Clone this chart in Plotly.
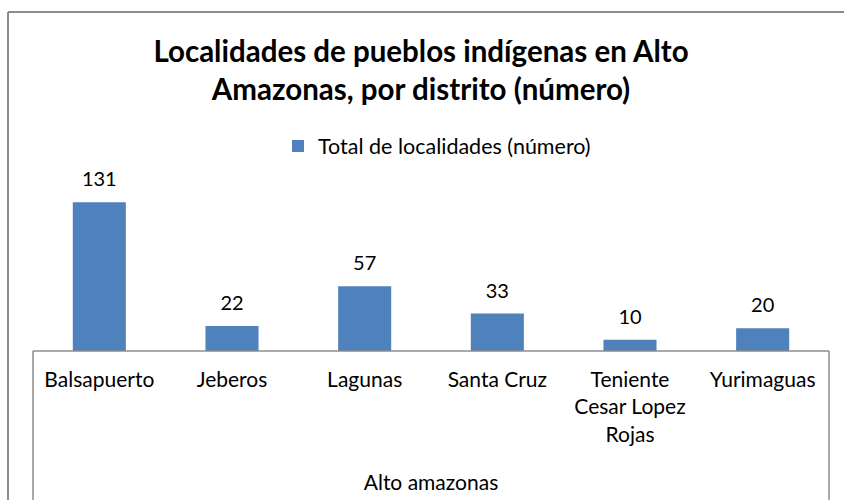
import plotly.graph_objects as go

categories = ["Balsapuerto", "Jeberos", "Lagunas", "Santa Cruz", "Teniente Cesar Lopez Rojas", "Yurimaguas"]
tick_labels = ["Balsapuerto", "Jeberos", "Lagunas", "Santa Cruz", "Teniente<br>Cesar Lopez<br>Rojas", "Yurimaguas"]
values = [131, 22, 57, 33, 10, 20]
series_name = "Total de localidades (número)"
group_label = "Alto amazonas"
title_text = "Localidades de pueblos indígenas en Alto<br>Amazonas, por distrito (número)"

FONT = "Lato"
W, H = 844, 500
L, R, T, B = 33, 15, 192, 149
ph = H - T - B
pw = W - L - R

fig = go.Figure()
fig.add_trace(go.Bar(
    x=categories, y=values, name=series_name,
    marker=dict(color="#4F81BD", line=dict(width=0)),
    width=0.4, hoverinfo="x+y",
))
fig.add_trace(go.Scatter(
    x=categories, y=values, mode="markers+text",
    text=[str(v) for v in values], textposition="top center",
    textfont=dict(family=FONT, size=20, color="#000000"),
    marker=dict(size=16, opacity=0), showlegend=False, hoverinfo="skip",
    cliponaxis=False,
))

fig.update_layout(
    width=W, height=H,
    margin=dict(l=L, r=R, t=T, b=B, pad=0, autoexpand=False),
    paper_bgcolor="white", plot_bgcolor="white",
    showlegend=True,
    legend=dict(orientation="h", x=437 / W, xanchor="center", xref="container",
                y=1 - 146 / H, yanchor="middle", yref="container",
                font=dict(family=FONT, size=21.5, color="#000000"),
                itemwidth=30, bgcolor="rgba(0,0,0,0)"),
    title=dict(text="<b>" + title_text + "</b>", x=421 / W, xanchor="center",
               y=1 - 62 / H, yanchor="top",
               font=dict(family=FONT, size=29.5, color="#000000")),
)
fig.update_xaxes(
    tickvals=categories, ticktext=tick_labels,
    showline=False, showgrid=False, ticks="",
    tickfont=dict(family=FONT, size=21, color="#000000"),
    ticklabelstandoff=14,
    title=dict(text=group_label, font=dict(family=FONT, size=21, color="#000000"), standoff=30),
    fixedrange=True,
)
fig.update_yaxes(range=[0, 140], visible=False, fixedrange=True)

line = dict(color="#8C8C8C", width=1.5)
yb = -B / ph
# axis box
fig.add_shape(type="line", xref="paper", yref="paper", x0=0, x1=1, y0=0, y1=0, line=line)
fig.add_shape(type="line", xref="paper", yref="paper", x0=0, x1=0, y0=0, y1=yb, line=line)
fig.add_shape(type="line", xref="paper", yref="paper", x0=1, x1=1, y0=0, y1=yb, line=line)
# outer chart border (left and top)
ytop = 1 + (T - 12) / ph
fig.add_shape(type="line", xref="paper", yref="paper",
              x0=(8 - L) / pw, x1=(8 - L) / pw, y0=ytop, y1=yb,
              line=dict(color="#8C8C8C", width=2))
fig.add_shape(type="line", xref="paper", yref="paper",
              x0=(8 - L) / pw, x1=(W - L) / pw, y0=ytop, y1=ytop,
              line=dict(color="#8C8C8C", width=2))

fig.write_html("out.html", config={"displayModeBar": False},
               post_script="document.body.style.margin='0';document.body.style.padding='0';")
